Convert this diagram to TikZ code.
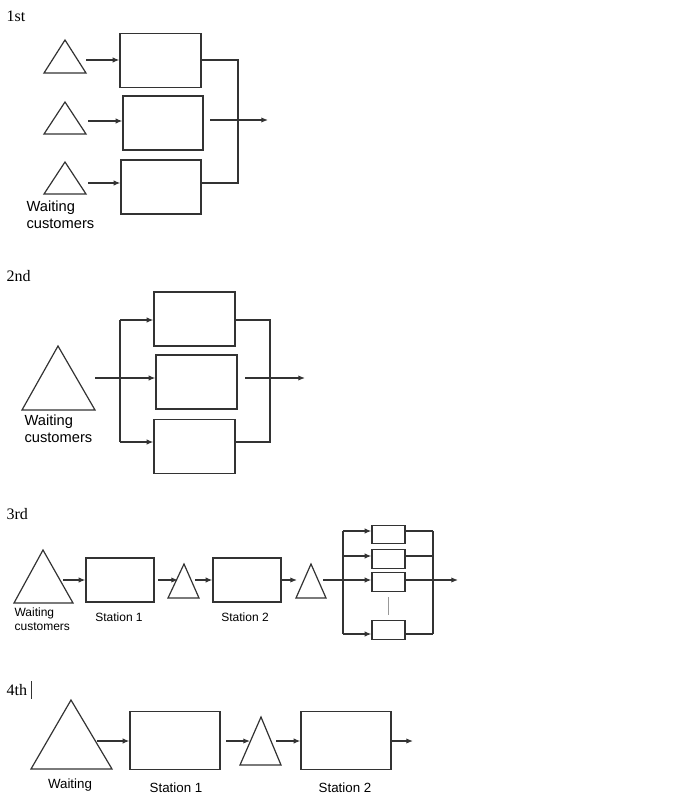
\documentclass[tikz,border=0pt]{standalone}
\usepackage{fontspec}
\setmainfont{Liberation Serif}
\newfontfamily\sans{Liberation Sans}
\usetikzlibrary{arrows.meta}
\begin{document}
\begin{tikzpicture}[x=0.75pt,y=-0.75pt,line width=0.9pt,draw=black!80,
  ar/.style={-{Latex[length=5pt,width=4pt]}},
  lbl/.style={font=\fontsize{12}{14}\selectfont,anchor=west,inner sep=0},
  txt/.style={font=\sans\fontsize{11}{13}\selectfont,align=left,inner sep=0},
  txs/.style={font=\sans\fontsize{9}{11}\selectfont,align=left,inner sep=0}]
\useasboundingbox (0,0) rectangle (675,798);
% 1st
\node[lbl] (l1) at (6,16) {1st};
\draw (44,73) -- (86,73) -- (65,40) -- cycle;
\draw (44,134) -- (86,134) -- (65,102) -- cycle;
\draw (44,194) -- (86,194) -- (65,162) -- cycle;
\node[draw,minimum width=60.75pt,minimum height=40.5pt,inner sep=0] (a1) at (160.5,60.5) {};
\node[draw,minimum width=60pt,minimum height=40.5pt,inner sep=0] (a2) at (163,123) {};
\node[draw,minimum width=60pt,minimum height=40.5pt,inner sep=0] (a3) at (161,187) {};
\coordinate (t1) at (86,60); \coordinate (t2) at (88,121); \coordinate (t3) at (88,183);
\draw[ar] (t1) -- (a1.west|-t1);
\draw[ar] (t2) -- (a2.west|-t2);
\draw[ar] (t3) -- (a3.west|-t3);
\coordinate (r1) at (238,60); \coordinate (r3) at (238,183); \coordinate (o1) at (268,120);
\draw (a1.east|-r1) -- (r1) -- (r3) -- (a3.east|-r3);
\draw[ar] (210,120) -- (o1);
\node[txt,anchor=north west] (w1) at (26,200) {Waiting\\customers};
% 2nd
\node[lbl] (l2) at (6,276) {2nd};
\draw (22,410) -- (95,410) -- (58,346) -- cycle;
\node[draw,minimum width=60.75pt,minimum height=40.5pt,inner sep=0] (b1) at (194.5,319) {};
\node[draw,minimum width=60.75pt,minimum height=40.5pt,inner sep=0] (b2) at (196.5,382) {};
\node[draw,minimum width=60.75pt,minimum height=40pt,inner sep=0] (b3) at (194.5,446.5) {};
\coordinate (s1) at (120,320); \coordinate (s3) at (120,442);
\draw (95,378) -- (120,378);
\draw (s1) -- (s3);
\draw[ar] (s1) -- (b1.west|-s1);
\draw[ar] (95,378) -- (b2.west|-0,378);
\draw[ar] (s3) -- (b3.west|-s3);
\coordinate (q1) at (270,320); \coordinate (q3) at (270,442);
\draw (b1.east|-q1) -- (q1) -- (q3) -- (b3.east|-q3);
\draw[ar] (245,378) -- (305,378);
\node[txt,anchor=north west] (w2) at (24,414) {Waiting\\customers};
% 3rd
\node[lbl] (l3) at (6,514) {3rd};
\draw (14,603) -- (73,603) -- (43,550) -- cycle;
\node[draw,minimum width=51pt,minimum height=33pt,inner sep=0] (c1) at (120,580) {};
\draw (168,598) -- (199,598) -- (184,564) -- cycle;
\node[draw,minimum width=51pt,minimum height=33pt,inner sep=0] (c2) at (247,580) {};
\draw (296,598) -- (326,598) -- (311,564) -- cycle;
\draw[ar] (63,580) -- (c1.west);
\draw[ar] (158,580) -- (178,580);
\draw[ar] (195,580) -- (c2.west);
\draw[ar] (282,580) -- (297,580);
\draw (323,580) -- (343,580);
\node[txs] (n1) at (119,617) {Station 1};
\node[txs] (n2) at (245,617) {Station 2};
\node[txs,anchor=north west] (w3) at (14,607) {Waiting\\customers};
\foreach \n/\y in {d1/534.5,d2/559,d3/582,d4/630}
  \node[draw,minimum width=24.75pt,minimum height=14pt,inner sep=0] (\n) at (388.5,\y) {};
\draw (343,531) -- (343,634);
\foreach \n/\y in {d1/531,d2/556,d3/580,d4/634}{
  \draw[ar] (343,\y) -- (\n.west|-0,\y);
  \draw (\n.east|-0,\y) -- (433,\y);}
\draw (433,531) -- (433,634);
\draw[ar] (410,580) -- (458,580);
\draw[black!40,line width=0.6pt] (388,597) -- (388,615);
% 4th
\node[lbl] (l4) at (6,690) {4th};
\draw[line width=0.6pt] (31,681) -- (31,699);
\draw (31,769) -- (112,769) -- (71,700) -- cycle;
\node[draw,minimum width=67.5pt,minimum height=44pt,inner sep=0] (e1) at (175,740.5) {};
\draw (240,765) -- (281,765) -- (261,717) -- cycle;
\node[draw,minimum width=67.5pt,minimum height=44pt,inner sep=0] (e2) at (346,740.5) {};
\draw[ar] (97,741) -- (e1.west|-0,741);
\draw[ar] (226,741) -- (250,741);
\draw[ar] (276,741) -- (e2.west|-0,741);
\draw[ar] (e2.east|-0,741) -- (413,741);
\node[txt,font=\sans\fontsize{10}{12}\selectfont] (w4) at (70,785) {Waiting};
\node[txt,font=\sans\fontsize{10}{12}\selectfont] (n3) at (176,788) {Station 1};
\node[txt,font=\sans\fontsize{10}{12}\selectfont] (n4) at (345,788) {Station 2};
\end{tikzpicture}
\end{document}
